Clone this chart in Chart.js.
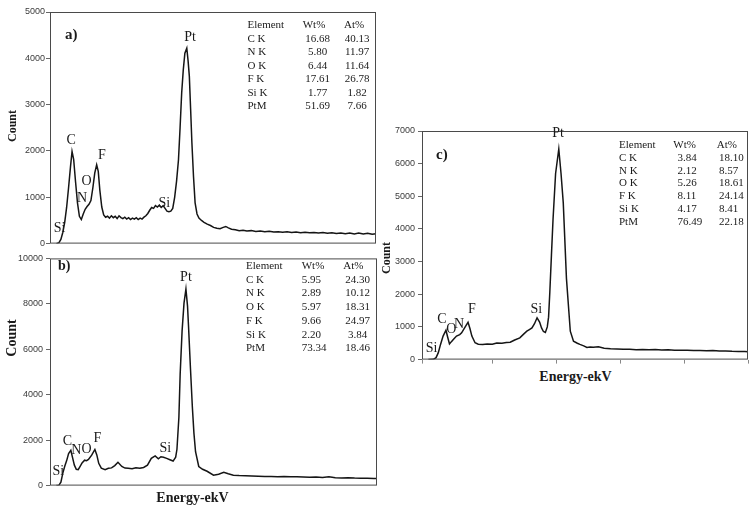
<!DOCTYPE html>
<html>
<head>
<meta charset="utf-8">
<script src="https://cdn.jsdelivr.net/npm/chart.js@4.4.1/dist/chart.umd.min.js"></script>
<style>
  body { margin: 0; background: #fff; }
  #wrap { position: relative; width: 755px; height: 525px; overflow: hidden; font-family: "Liberation Serif", serif; color: #1a1a1a; }
  canvas { position: absolute; }
  .t { position: absolute; white-space: nowrap; line-height: 1; }
</style>
</head>
<body>
<div id="wrap">
  <canvas id="specA" width="380" height="250" style="left:0;top:0"></canvas>
  <canvas id="specB" width="380" height="244" style="left:0;top:250px"></canvas>
  <canvas id="specC" width="370" height="248" style="left:380px;top:120px"></canvas>
</div>
<script>
// energies in keV, counts
const energyA = [0.00,0.04,0.07,0.10,0.13,0.16,0.19,0.22,0.245,0.27,
  0.30,0.33,0.36,0.39,0.42,0.45,0.48,0.51,0.54,0.57,
  0.60,0.63,0.655,0.68,0.71,0.74,0.77,0.80,0.83,0.86,
  0.89,0.92,0.95,0.98,1.01,1.04,1.07,1.10,1.13,1.16,
  1.19,1.22,1.25,1.28,1.31,1.34,1.37,1.40,1.43,1.46,
  1.49,1.52,1.55,1.58,1.61,1.64,1.67,1.70,1.73,1.76,
  1.79,1.82,1.85,1.88,1.91,1.935,1.96,1.985,2.01,2.04,
  2.06,2.08,2.10,2.12,2.145,2.17,2.20,2.23,2.27,2.31,
  2.36,2.41,2.46,2.51,2.56,2.61,2.65,2.69,2.74,2.80,
  2.86,2.92,2.98,3.05,3.12,3.19,3.26,3.33,3.40,3.47,
  3.54,3.61,3.68,3.75,3.82,3.89,3.96,4.03,4.10,4.17,
  4.24,4.31,4.38,4.45,4.52,4.59,4.66,4.73,4.80,4.87,
  4.94,5.00];
const countA = [0,20,90,240,460,780,1200,1650,1990,1820,
  1330,880,590,520,640,740,800,850,930,1200,
  1520,1700,1560,1150,790,620,570,590,550,600,
  560,590,540,600,560,540,570,530,560,520,
  550,530,560,520,550,530,570,600,650,720,
  780,760,820,790,830,780,820,760,700,690,
  700,760,1000,1350,1810,2500,3250,3750,4110,4220,
  3950,3610,2900,2170,1450,880,640,550,500,460,
  420,390,350,330,320,350,370,340,310,300,
  280,290,270,280,262,270,255,266,250,258,
  245,255,240,250,236,246,232,242,228,238,
  222,236,220,230,214,228,210,226,205,222,
  200,215];

const energyB = [0.00,0.04,0.07,0.10,0.13,0.16,0.19,0.225,0.25,0.28,
  0.31,0.34,0.37,0.40,0.44,0.47,0.50,0.55,0.60,0.63,
  0.66,0.70,0.76,0.81,0.86,0.91,0.96,1.02,1.07,1.12,
  1.18,1.24,1.30,1.36,1.42,1.48,1.54,1.59,1.63,1.67,
  1.72,1.77,1.82,1.86,1.88,1.91,1.93,1.96,1.99,2.02,
  2.045,2.06,2.09,2.12,2.145,2.17,2.22,2.28,2.35,2.45,
  2.53,2.61,2.68,2.76,2.85,2.95,3.05,3.15,3.25,3.35,
  3.45,3.55,3.65,3.75,3.85,3.95,4.05,4.15,4.25,4.35,
  4.45,4.55,4.65,4.75,4.85,4.95,5.00];
const countB = [0,20,150,550,850,1100,1410,1550,1250,900,
  720,700,850,1000,1120,1100,1150,1340,1590,1350,
  980,770,700,760,780,880,1025,840,770,760,
  740,780,760,800,900,1200,1310,1180,1270,1250,
  1200,1140,1080,1250,1600,3000,4900,6800,8030,8650,
  7900,7050,5200,3470,2300,1490,840,720,630,460,
  500,590,520,460,440,430,420,415,405,400,
  395,400,385,390,380,370,380,360,385,350,
  340,345,330,325,320,315,310];

const energyC = [0.00,0.08,0.12,0.155,0.19,0.23,0.275,0.30,0.33,0.36,
  0.39,0.44,0.49,0.52,0.55,0.59,0.62,0.65,0.68,0.73,
  0.78,0.85,0.92,1.00,1.07,1.15,1.22,1.28,1.35,1.43,
  1.49,1.54,1.58,1.62,1.66,1.70,1.74,1.77,1.80,1.83,
  1.86,1.88,1.90,1.925,1.95,1.99,2.04,2.075,2.11,2.16,
  2.22,2.27,2.33,2.37,2.43,2.48,2.53,2.58,2.66,2.75,
  2.85,2.95,3.05,3.15,3.25,3.35,3.45,3.55,3.65,3.75,
  3.85,3.95,4.05,4.15,4.25,4.35,4.45,4.55,4.65,4.75,
  4.85,4.95,5.00];
const countC = [0,10,60,212,465,720,900,700,480,550,
  615,720,765,820,920,1050,1140,950,720,515,
  470,460,480,470,510,500,520,530,600,667,
  780,870,920,970,1100,1280,1150,970,860,830,
  1000,1300,2080,3200,4300,5700,6450,5700,4800,2480,
  870,565,500,465,420,370,385,380,390,350,
  330,325,315,320,305,312,300,308,295,300,
  290,285,290,278,280,270,275,262,265,255,
  250,245,240];

const elements = ['C K', 'N K', 'O K', 'F K', 'Si K', 'PtM'];
const wtA = ['16.68', '5.80', '6.44', '17.61', '1.77', '51.69'];
const atA = ['40.13', '11.97', '11.64', '26.78', '1.82', '7.66'];
const wtB = ['5.95', '2.89', '5.97', '9.66', '2.20', '73.34'];
const atB = ['24.30', '10.12', '18.31', '24.97', '3.84', '18.46'];
const wtC = ['3.84', '2.12', '5.26', '8.11', '4.17', '76.49'];
const atC = ['18.10', '8.57', '18.61', '24.14', '8.41', '22.18'];

// frame around the plot area + element labels placed in data units
const peakPlugin = {
  id: 'peaks',
  afterDraw(chart, args, opts) {
    const { ctx, chartArea: a, scales: { x, y } } = chart;
    ctx.save();
    ctx.strokeStyle = '#4a4a4a';
    ctx.lineWidth = 1;
    ctx.strokeRect(a.left + 0.5, a.top + 0.5, a.right - a.left - 1, a.bottom - a.top - 1);
    ctx.fillStyle = '#1a1a1a';
    ctx.font = '14px "Liberation Serif"';
    ctx.textAlign = 'center';
    ctx.textBaseline = 'middle';
    opts.marks.forEach(m => ctx.fillText(m[0], x.getPixelForValue(m[1]), y.getPixelForValue(m[2])));
    ctx.restore();
  }
};

function spectrum(id, energy, counts, yMax, yStep, yWidth, pad, labelPad, xTicks, marks) {
  return new Chart(document.getElementById(id), {
    type: 'line',
    data: {
      datasets: [{
        data: energy.map((e, i) => ({ x: e, y: counts[i] })),
        borderColor: '#151515',
        borderWidth: 1.5,
        pointRadius: 0,
        tension: 0
      }]
    },
    options: {
      responsive: false,
      animation: false,
      layout: { padding: pad },
      plugins: { legend: { display: false }, tooltip: { enabled: false }, peaks: { marks } },
      scales: {
        x: {
          type: 'linear', min: -0.1, max: 5.0,
          border: { display: false },
          grid: { display: xTicks, drawOnChartArea: false, tickLength: 4, color: '#888' },
          ticks: { display: false, stepSize: 1 },
          afterFit: s => { s.height = 6; }
        },
        y: {
          min: 0, max: yMax,
          border: { display: false },
          grid: { drawOnChartArea: false, tickLength: 4, color: '#666' },
          ticks: {
            stepSize: yStep, padding: labelPad, color: '#3a3a3a',
            font: { family: 'Liberation Sans', size: 9 },
            callback: v => String(v)
          },
          afterFit: s => { s.width = yWidth; }
        }
      }
    },
    plugins: [peakPlugin]
  });
}

spectrum('specA', energyA, countA, 5000, 1000, 50, { top: 12, right: 4 }, 1, false, [
  ['Si', 0.05, 320], ['C', 0.23, 2240], ['N', 0.40, 970], ['O', 0.47, 1340],
  ['F', 0.71, 1900], ['Si', 1.69, 860], ['Pt', 2.09, 4460]
]);
spectrum('specB', energyB, countB, 10000, 2000, 50, { top: 4, right: 3 }, 3, false, [
  ['Si', 0.03, 630], ['C', 0.17, 1940], ['N', 0.31, 1550], ['O', 0.47, 1590],
  ['F', 0.64, 2080], ['Si', 1.70, 1650], ['Pt', 2.02, 9150]
]);
spectrum('specC', energyC, countC, 7000, 1000, 42, { top: 11, right: 2 }, 3, true, [
  ['Si', 0.05, 340], ['C', 0.21, 1220], ['O', 0.36, 920], ['N', 0.48, 1080],
  ['F', 0.68, 1550], ['Si', 1.69, 1550], ['Pt', 2.03, 6930]
]);

// text overlays
const wrap = document.getElementById('wrap');
function text(str, x, y, css, anchor) {
  const d = document.createElement('div');
  d.className = 't';
  d.textContent = str;
  d.style.left = x + 'px';
  d.style.top = y + 'px';
  d.style.cssText += css || '';
  d.style.transform = anchor || 'translate(0,-50%)';
  wrap.appendChild(d);
}

const bold = 'font-weight:bold;';
const vert = 'translate(-50%,-50%) rotate(-90deg)';
text('Count', 12, 126, bold + 'font-size:12px', vert);
text('Count', 12, 338, bold + 'font-size:14px', vert);
text('Count', 386, 258, bold + 'font-size:12px', vert);
text('Energy-ekV', 192.5, 498, bold + 'font-size:14px', 'translate(-50%,-50%)');
text('Energy-ekV', 575.5, 377, bold + 'font-size:14px', 'translate(-50%,-50%)');
text('a)', 65, 34, bold + 'font-size:15px');
text('b)', 58, 266, bold + 'font-size:14px');
text('c)', 436, 154, bold + 'font-size:15px');

function table(wt, at, t) {
  const f = 'font-size:11px';
  text('Element', t.x, t.y, f);
  text('Wt%', t.wtHead, t.y, f);
  text('At%', t.atHead, t.y, f);
  elements.forEach((el, i) => {
    const y = t.y + (i + 1) * t.row;
    text(el, t.x, y, f);
    text(wt[i], t.wtX, y, f, t.wtCenter ? 'translate(-50%,-50%)' : 'translate(0,-50%)');
    text(at[i], t.atX, y, f, t.atCenter ? 'translate(-50%,-50%)' : 'translate(0,-50%)');
  });
}
table(wtA, atA, { x: 247.5, y: 24, row: 13.5, wtHead: 302.7, atHead: 344, wtX: 317.5, atX: 357.2, wtCenter: true, atCenter: true });
table(wtB, atB, { x: 246, y: 265, row: 13.7, wtHead: 301.7, atHead: 343.3, wtX: 301.7, atX: 357.5, wtCenter: false, atCenter: true });
table(wtC, atC, { x: 619, y: 144, row: 12.8, wtHead: 673.3, atHead: 716.7, wtX: 677.5, atX: 719, wtCenter: false, atCenter: false });
</script>
</body>
</html>
